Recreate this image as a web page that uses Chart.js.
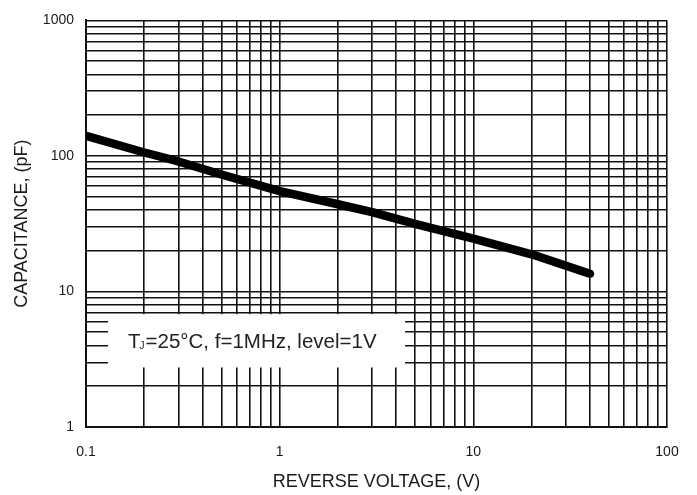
<!DOCTYPE html>
<html>
<head>
    <title>Capacitance vs Reverse Voltage</title>
    <script src="https://cdn.jsdelivr.net/npm/chart.js"></script>
    <style>
        body { margin: 0; background: #fff; }
        #wrap { width: 697px; height: 495px; }
    </style>
</head>
<body>
    <div id="wrap"><canvas id="capChart"></canvas></div>

    <script>
        // curve
        const voltage = [0.1, 0.2, 0.3, 0.5, 1, 2, 3, 5, 10, 20, 40];
        const capacitance = [141, 106, 91, 73, 55, 44, 38.5, 31.5, 24.5, 18.8, 13.5];

        // grid positions (every 1..9 of each decade)
        const xGrid = [0.1, 0.2, 0.3, 0.4, 0.5, 0.6, 0.7, 0.8, 0.9,
                       1, 2, 3, 4, 5, 6, 7, 8, 9,
                       10, 20, 30, 40, 50, 60, 70, 80, 90, 100];
        const yGrid = [1, 2, 3, 4, 5, 6, 7, 8, 9,
                       10, 20, 30, 40, 50, 60, 70, 80, 90,
                       100, 200, 300, 400, 500, 600, 700, 800, 900, 1000];
        const xLabelValues = [0.1, 1, 10, 100];
        const xLabels = ['0.1', '1', '10', '100'];
        const yLabelValues = [1, 10, 100, 1000];
        const yLabels = ['1', '10', '100', '1000'];

        const FONT = "'Liberation Sans', Arial, sans-serif";

        // white note box with the test conditions
        const noteBox = {
            id: 'noteBox',
            beforeDatasetsDraw(chart) {
                const {ctx, scales} = chart;
                const left = scales.x.getPixelForValue(0.13);
                const right = scales.x.getPixelForValue(4.44);
                const top = scales.y.getPixelForValue(6.8);
                const bottom = scales.y.getPixelForValue(2.75);
                ctx.save();
                ctx.fillStyle = '#fff';
                ctx.fillRect(left, top, right - left, bottom - top);

                const base = (top + bottom) / 2 + 7.5;
                let x = left + 20;
                ctx.fillStyle = '#222';
                ctx.textBaseline = 'alphabetic';
                ctx.font = '20.5px ' + FONT;
                ctx.fillText('T', x, base);
                x += ctx.measureText('T').width - 1;
                ctx.font = '10px ' + FONT;
                ctx.fillText('J', x, base + 1);
                x += ctx.measureText('J').width + 1;
                ctx.font = '20.5px ' + FONT;
                ctx.fillText('=25\u00b0C, f=1MHz, level=1V', x, base);
                ctx.restore();
            }
        };

        const data = voltage.map((v, i) => ({x: v, y: capacitance[i]}));

        new Chart(document.getElementById('capChart'), {
            type: 'line',
            data: {
                datasets: [{
                    data: data,
                    borderColor: '#000',
                    borderWidth: 8.5,
                    borderCapStyle: 'round',
                    borderJoinStyle: 'round',
                    pointRadius: 0,
                    tension: 0
                }]
            },
            options: {
                responsive: true,
                maintainAspectRatio: false,
                animation: false,
                layout: { padding: { top: 15, right: 30, left: 0, bottom: 0 } },
                plugins: {
                    legend: { display: false },
                    tooltip: { enabled: false }
                },
                scales: {
                    x: {
                        type: 'logarithmic',
                        min: 0.1,
                        max: 100,
                        afterBuildTicks: s => { s.ticks = xGrid.map(v => ({value: v})); },
                        afterFit: s => { s.height = 68; },
                        grid: { color: '#111', lineWidth: 1.6, drawTicks: false },
                        border: { display: true, color: '#111', width: 2 },
                        ticks: {
                            autoSkip: false,
                            maxRotation: 0,
                            minRotation: 0,
                            padding: 17,
                            color: '#1a1a1a',
                            font: { family: FONT, size: 14 },
                            callback: v => {
                                const i = xLabelValues.indexOf(v);
                                return i >= 0 ? xLabels[i] : '';
                            }
                        },
                        title: {
                            display: true,
                            text: 'REVERSE VOLTAGE, (V)',
                            color: '#1a1a1a',
                            font: { family: FONT, size: 18 },
                            padding: { top: 0, bottom: 2 }
                        }
                    },
                    y: {
                        type: 'logarithmic',
                        min: 1,
                        max: 1000,
                        afterBuildTicks: s => { s.ticks = yGrid.map(v => ({value: v})); },
                        afterFit: s => { s.width = 86; },
                        grid: { color: '#111', lineWidth: 1.6, drawTicks: false },
                        border: { display: true, color: '#111', width: 2 },
                        ticks: {
                            autoSkip: false,
                            padding: 12,
                            color: '#1a1a1a',
                            font: { family: FONT, size: 14 },
                            callback: v => {
                                const i = yLabelValues.indexOf(v);
                                return i >= 0 ? yLabels[i] : '';
                            }
                        },
                        title: {
                            display: true,
                            text: 'CAPACITANCE, (pF)',
                            color: '#1a1a1a',
                            font: { family: FONT, size: 18 },
                            padding: { top: 11, bottom: 0 }
                        }
                    }
                }
            },
            plugins: [noteBox]
        });
    </script>
</body>
</html>
